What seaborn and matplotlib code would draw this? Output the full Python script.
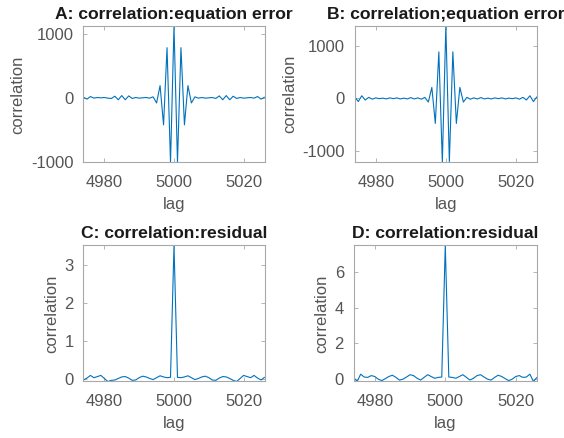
import numpy as np
import pandas as pd
import seaborn as sns
import matplotlib
matplotlib.use("Agg")
import matplotlib.pyplot as plt

# lag axis
lags = list(range(4974, 5027))

# A: correlation of equation error (lags 4974..5026)
corr_a = [10, -20, 20, -5, 5, 0, 5, -5, -10, 25, -30, 35, -30, 30, -10, 5, -5, 0, 5, -5, 15,
          -80, 190, -420, 780, -1006, 1113, -1000, 780, -420, 190, -80, 15, -5, 5, -5, 0,
          5, -10, 30, -30, 35, -30, 25, -10, 5, -5, 0, 5, -5, 20, -20, 10]

# B: correlation of equation error (second case)
corr_b = [30, -60, 50, -30, 20, -15, 10, -5, 5, -10, 10, -5, 10, -10, 5, -10, 15, -10, 10, -15, 20,
          -70, 209, -475, 884, -1209, 1378, -1200, 884, -475, 209, -70, 20, -15, 10, -10, 15,
          -10, 5, -10, 10, -5, 10, -10, 5, -5, 10, -15, 20, -30, 50, -60, 30]

# C: correlation of residual
corr_c = [-0.02, 0.03, 0.10, 0.04, 0.07, 0.10, 0.02, -0.06, -0.03, -0.02, 0.02, 0.06, 0.07, 0.03,
          -0.03, -0.02, 0.04, 0.08, 0.06, 0.02, -0.01, 0.04, 0.09, 0.06, 0.04, 0.05, 3.52,
          0.05, 0.04, 0.06, 0.09, 0.04, -0.01, 0.02, 0.06, 0.08, 0.04, -0.02, -0.03, 0.03,
          0.07, 0.06, 0.02, -0.03, -0.06, 0.02, 0.10, 0.07, 0.04, 0.10, 0.03, -0.02, 0.05]

# D: correlation of residual (second case)
corr_d = [0.10, -0.13, 0.28, 0.12, 0.10, 0.20, 0.15, 0.00, -0.08, 0.03, 0.15, 0.22, 0.10, -0.05,
          0.00, 0.12, 0.25, 0.20, 0.05, -0.05, 0.10, 0.25, 0.15, 0.05, 0.10, 0.12, 7.49,
          0.12, 0.10, 0.05, 0.15, 0.25, 0.10, -0.05, 0.05, 0.20, 0.25, 0.12, 0.00, -0.05,
          0.10, 0.22, 0.15, 0.03, -0.08, 0.00, 0.15, 0.20, 0.10, 0.12, 0.28, -0.13, 0.10]

titles = ["A: correlation:equation error", "B: correlation;equation error",
          "C: correlation:residual", "D: correlation:residual"]
xticks = [4980, 5000, 5020]
yticks = [[-1000, 0, 1000], [-1000, 0, 1000], [0, 1, 2, 3], [0, 2, 4, 6]]
series = [corr_a, corr_b, corr_c, corr_d]

sns.set_theme(style="white")
plt.rcParams['font.family'] = ['Liberation Sans', 'DejaVu Sans']
plt.rcParams['axes.unicode_minus'] = False

fig = plt.figure(figsize=(5.64, 4.38), dpi=100)
positions = [[0.148, 0.629, 0.321, 0.311], [0.629, 0.630, 0.323, 0.311],
             [0.148, 0.129, 0.321, 0.311], [0.627, 0.129, 0.325, 0.311]]

text_col = '#555555'
box_col = '#a8a8a8'
line_col = '#0072BD'

for pos, vals, title, yt in zip(positions, series, titles, yticks):
    ax = fig.add_axes(pos)
    df = pd.DataFrame({"lag": lags, "correlation": vals})
    sns.lineplot(data=df, x="lag", y="correlation", ax=ax, color=line_col, linewidth=0.8)
    ax.set_xlim(min(lags), max(lags))
    ax.set_ylim(min(vals), max(vals))
    ax.set_xticks(xticks)
    ax.set_yticks(yt)
    ax.set_title(title, fontsize=12.6, fontweight='bold', color='#1a1a1a', pad=5)
    ax.set_xlabel("lag", fontsize=12, color=text_col, labelpad=5)
    ax.set_ylabel("correlation", fontsize=12, color=text_col, labelpad=4)
    ax.tick_params(axis='both', direction='in', length=3, width=0.6, colors=box_col,
                   labelcolor=text_col, labelsize=12, top=True, right=True, bottom=True, left=True)
    ax.tick_params(axis='x', pad=9)
    ax.tick_params(axis='y', pad=7)
    for sp in ax.spines.values():
        sp.set_color(box_col)
        sp.set_linewidth(0.8)

fig.savefig("out.png", dpi=100)
